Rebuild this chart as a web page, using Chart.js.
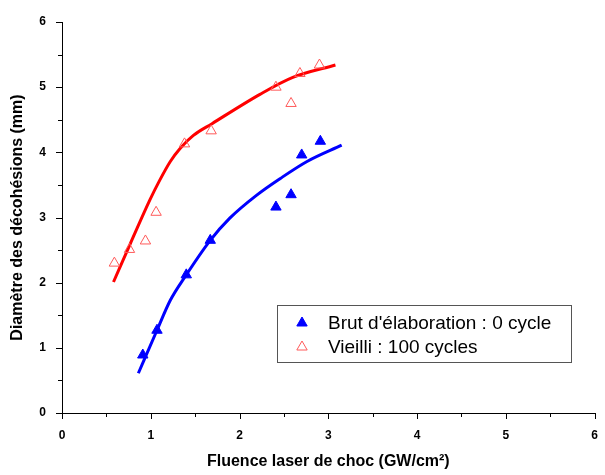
<!DOCTYPE html>
<html>
<head>
<meta charset="utf-8">
<script src="https://cdn.jsdelivr.net/npm/chart.js@4"></script>
<style>
  html, body { margin: 0; padding: 0; background: #fff; }
  #wrap { width: 605px; height: 475px; }
</style>
</head>
<body>
<div id="wrap"><canvas id="c"></canvas></div>
<script>
// Measured points
const brutX = [0.91, 1.07, 1.40, 1.67, 2.41, 2.58, 2.70, 2.91];
const brutY = [0.89, 1.27, 2.12, 2.65, 3.16, 3.35, 3.96, 4.17];
const vieilliX = [0.59, 0.76, 0.94, 1.06, 1.38, 1.68, 2.41, 2.58, 2.68, 2.90];
const vieilliY = [2.30, 2.51, 2.64, 3.08, 4.13, 4.33, 5.00, 4.75, 5.21, 5.34];

// Fit curves
const fitBrutX = [0.86, 1.07, 1.22, 1.39, 1.67, 1.89, 2.19, 2.46, 2.76, 3.15];
const fitBrutY = [0.61, 1.27, 1.73, 2.10, 2.65, 2.99, 3.34, 3.60, 3.86, 4.11];
const fitVieilliX = [0.58, 0.77, 0.99, 1.10, 1.22, 1.33, 1.48, 1.69, 2.23, 2.60, 3.08];
const fitVieilliY = [2.01, 2.60, 3.27, 3.57, 3.86, 4.06, 4.26, 4.44, 4.89, 5.15, 5.34];

const legendLabels = ["Brut d'élaboration : 0 cycle", "Vieilli : 100 cycles"];

const FONT = '"Liberation Sans", Arial, sans-serif';
const zip = (xs, ys) => xs.map((x, i) => ({ x: x, y: ys[i] }));

// outward ticks (major every 1, minor every 0.5) + legend box
const extras = {
    id: 'extras',
    afterDraw(chart) {
        const ctx = chart.ctx;
        const xs = chart.scales.x, ys = chart.scales.y;
        const a = chart.chartArea;
        ctx.save();
        ctx.strokeStyle = '#000';
        ctx.lineWidth = 1;
        for (let i = 0; i <= 12; i++) {
            const v = i / 2;
            const len = i % 2 === 0 ? 6 : 4;
            const px = Math.round(xs.getPixelForValue(v)) + 0.5;
            ctx.beginPath();
            ctx.moveTo(px, a.bottom);
            ctx.lineTo(px, a.bottom + len);
            ctx.stroke();
            const py = Math.round(ys.getPixelForValue(v)) + 0.5;
            ctx.beginPath();
            ctx.moveTo(a.left, py);
            ctx.lineTo(a.left - len, py);
            ctx.stroke();
        }

        // legend box
        const bx = 277, by = 305, bw = 294, bh = 57;
        ctx.fillStyle = '#fff';
        ctx.fillRect(bx, by, bw, bh);
        ctx.strokeStyle = '#555';
        ctx.strokeRect(bx + 0.5, by + 0.5, bw, bh);

        const ds = chart.data.datasets;
        const rows = [by + 18, by + 42];
        for (let i = 0; i < 2; i++) {
            ctx.fillStyle = ds[i].backgroundColor;
            ctx.strokeStyle = ds[i].borderColor;
            ctx.lineWidth = ds[i].borderWidth;
            Chart.helpers.drawPoint(ctx, {
                pointStyle: 'triangle', radius: 6, rotation: 0, borderWidth: ds[i].borderWidth
            }, 302, rows[i]);
            ctx.fillStyle = '#000';
            ctx.font = '19px ' + FONT;
            ctx.textBaseline = 'middle';
            ctx.textAlign = 'left';
            ctx.fillText(legendLabels[i], 328, rows[i] + 1);
        }
        ctx.restore();
    }
};

new Chart(document.getElementById('c'), {
    type: 'scatter',
    data: {
        datasets: [
            {
                label: legendLabels[0],
                data: zip(brutX, brutY),
                pointStyle: 'triangle',
                pointRadius: 6,
                backgroundColor: '#0000ff',
                borderColor: '#0000ff',
                borderWidth: 1
            },
            {
                label: legendLabels[1],
                data: zip(vieilliX, vieilliY),
                pointStyle: 'triangle',
                pointRadius: 6,
                backgroundColor: 'rgba(0,0,0,0)',
                borderColor: '#ff5a5a',
                borderWidth: 1
            },
            {
                label: 'fit brut',
                data: zip(fitBrutX, fitBrutY),
                showLine: true,
                pointRadius: 0,
                borderColor: '#0000ff',
                borderWidth: 3,
                cubicInterpolationMode: 'monotone'
            },
            {
                label: 'fit vieilli',
                data: zip(fitVieilliX, fitVieilliY),
                showLine: true,
                pointRadius: 0,
                borderColor: '#ff0000',
                borderWidth: 3,
                cubicInterpolationMode: 'monotone'
            }
        ]
    },
    options: {
        responsive: true,
        maintainAspectRatio: false,
        animation: false,
        layout: {
            padding: { left: 4, right: 10, top: 22, bottom: 1 }
        },
        scales: {
            x: {
                type: 'linear',
                min: 0,
                max: 6,
                grid: { display: false },
                border: { display: true, color: '#000', width: 1 },
                afterFit: (s) => { s.height = 61; },
                ticks: {
                    stepSize: 1,
                    padding: 7,
                    color: '#000',
                    font: { family: FONT, size: 12, weight: 'bold' }
                },
                title: {
                    display: true,
                    text: 'Fluence laser de choc (GW/cm²)',
                    color: '#000',
                    padding: { top: 4, bottom: 3 },
                    font: { family: FONT, size: 16, weight: 'bold' }
                }
            },
            y: {
                min: 0,
                max: 6,
                grid: { display: false },
                border: { display: true, color: '#000', width: 1 },
                afterFit: (s) => { s.width = 58; },
                ticks: {
                    stepSize: 1,
                    padding: 8,
                    color: '#000',
                    font: { family: FONT, size: 12, weight: 'bold' }
                },
                title: {
                    display: true,
                    text: 'Diamètre des décohésions (mm)',
                    color: '#000',
                    padding: { top: 4, bottom: 4 },
                    font: { family: FONT, size: 16, weight: 'bold' }
                }
            }
        },
        plugins: {
            legend: { display: false },
            tooltip: { enabled: false }
        }
    },
    plugins: [extras]
});
</script>
</body>
</html>
